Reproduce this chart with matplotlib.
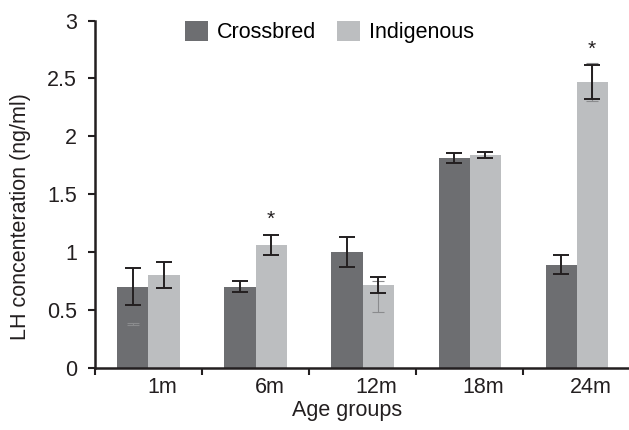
import numpy as np
import matplotlib
matplotlib.use("Agg")
import matplotlib.pyplot as plt

plt.rcParams['font.family'] = ['Liberation Sans', 'DejaVu Sans']

# data
groups = ['1m', '6m', '12m', '18m', '24m']
crossbred = [0.70, 0.70, 1.00, 1.81, 0.89]
crossbred_err = [0.16, 0.05, 0.13, 0.045, 0.08]
indigenous = [0.80, 1.06, 0.715, 1.84, 2.47]
indigenous_err = [0.11, 0.09, 0.07, 0.027, 0.15]
significant = [False, True, False, False, True]

# faint duplicate whiskers visible in the scanned figure
ghost_cross_lo = [0.366, None, None, None, None]
ghost_cross_hi = [0.39, None, None, None, None]
ghost_ind_lo = [None, None, 0.48, None, 2.305]
ghost_ind_hi = [None, None, 0.747, None, 2.63]

dark = '#6d6e71'
light = '#bcbec0'
ink = '#231f20'
fs = 15.5

fig = plt.figure(figsize=(6.29, 4.30), dpi=100)
ax = fig.add_axes([0.151, 0.145, 0.849, 0.807])

x = np.arange(len(groups)) + 0.5
w = 0.29

ax.bar(x - w / 2, crossbred, w, color=dark, label='Crossbred')
ax.bar(x + w / 2, indigenous, w, color=light, label='Indigenous')


def ghost(xs, lo, hi):
    for xi, a, b in zip(xs, lo, hi):
        if a is None:
            continue
        ax.vlines(xi, a, b, color='#8a8b8d', lw=0.8, zorder=3)
        ax.hlines([a, b], xi - 0.06, xi + 0.06, color='#8a8b8d', lw=0.8, zorder=3)


ghost(x - w / 2, ghost_cross_lo, ghost_cross_hi)
ghost(x + w / 2, ghost_ind_lo, ghost_ind_hi)

ax.errorbar(x - w / 2, crossbred, yerr=crossbred_err, fmt='none',
            ecolor=ink, elinewidth=1.4, capsize=6, capthick=1.4, zorder=4)
ax.errorbar(x + w / 2, indigenous, yerr=indigenous_err, fmt='none',
            ecolor=ink, elinewidth=1.4, capsize=6, capthick=1.4, zorder=4)

for xi, v, e, s in zip(x, indigenous, indigenous_err, significant):
    if s:
        ax.text(xi + w / 2, v + e + 0.05, '*', ha='center', va='bottom',
                fontsize=15, color=ink)

ax.set_xlim(0, 4.99)
ax.set_ylim(0, 3)
ax.set_yticks(np.arange(0, 3.01, 0.5))
ax.set_yticklabels(['0', '0.5', '1', '1.5', '2', '2.5', '3'])

ax.set_xticks(np.arange(0, 5))
ax.set_xticklabels([])
ax.set_xticks(x + 0.13, minor=True)
ax.set_xticklabels(groups, minor=True)

ax.tick_params(axis='both', which='major', length=5, width=1.5, color=ink,
               labelsize=fs, labelcolor=ink, pad=8)
ax.tick_params(axis='x', which='minor', length=0, labelsize=fs,
               labelcolor=ink, pad=7)

for side in ['top', 'right']:
    ax.spines[side].set_visible(False)
for side in ['left', 'bottom']:
    ax.spines[side].set_linewidth(1.8)
    ax.spines[side].set_color(ink)

ax.set_xlabel('Age groups', fontsize=fs, color=ink)
ax.xaxis.set_label_coords(0.472, -0.092)
ax.set_ylabel('LH concenteration (ng/ml)', fontsize=fs, color=ink)
ax.yaxis.set_label_coords(-0.12, 0.434)

ax.legend(loc='center', bbox_to_anchor=(0.439, 0.968), ncol=2, frameon=False,
          fontsize=fs, handlelength=1.07, handleheight=1.07,
          handletextpad=0.4, columnspacing=1.0)

fig.savefig('out.png', dpi=100)
